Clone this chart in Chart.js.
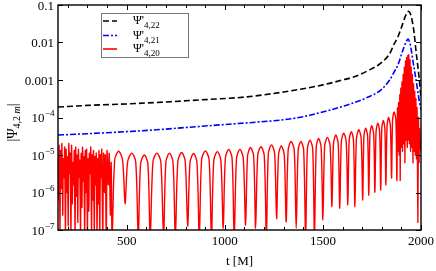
<!DOCTYPE html>
<html>
<head>
<meta charset="utf-8">
<script src="https://cdn.jsdelivr.net/npm/chart.js@4.4.1/dist/chart.umd.min.js"></script>
<style>
  html, body { margin: 0; padding: 0; background: #fff; }
</style>
</head>
<body>
<canvas id="chart" width="436" height="271"></canvas>
<script>
// values, t in M and |Psi| on a log axis
const seriesNames = ['4,22', '4,21', '4,20'];

const blackPts = [
  [150, 1.9e-4], [300, 2.1e-4], [500, 2.3e-4], [700, 2.6e-4], [900, 3.0e-4],
  [1100, 3.5e-4], [1300, 4.8e-4], [1500, 7.4e-4], [1600, 1.0e-3], [1668, 1.26e-3],
  [1730, 1.78e-3], [1795, 2.8e-3], [1840, 5.0e-3], [1862, 8.9e-3], [1882, 1.4e-2],
  [1895, 2.1e-2], [1908, 3.3e-2], [1920, 5.0e-2], [1930, 6.3e-2], [1937, 6.8e-2],
  [1946, 5.8e-2], [1955, 3.8e-2], [1965, 1.8e-2], [1974, 6.3e-3], [1990, 1.2e-3],
  [2000, 3.2e-4]
];

const bluePts = [
  [150, 3.4e-5], [300, 3.7e-5], [500, 4.2e-5], [650, 4.7e-5], [800, 5.4e-5],
  [1000, 6.5e-5], [1200, 7.8e-5], [1300, 8.7e-5], [1400, 1.05e-4], [1540, 1.6e-4],
  [1650, 2.4e-4], [1730, 3.5e-4], [1795, 5.4e-4], [1840, 1.0e-3], [1862, 1.6e-3],
  [1882, 2.5e-3], [1908, 6.3e-3], [1925, 1.05e-2], [1934, 1.23e-2], [1945, 8.9e-3],
  [1964, 2.2e-3], [1978, 7.9e-4], [1990, 3.0e-4], [2000, 1.6e-4]
];

const redPts = [
  [150, 1.0e-5], [153, 6.3e-7], [156, 1.8e-5], [160, 6.3e-8], [163, 1.3e-5], [167, 1.3e-6],
  [170, 2.0e-5], [174, 2.5e-7], [177, 7.9e-6], [181, 2.5e-6], [184, 1.6e-5], [188, 6.3e-8],
  [191, 1.4e-5], [195, 1.0e-6], [198, 8.9e-6], [202, 1.3e-7], [205, 2.0e-5], [209, 3.2e-6],
  [212, 1.1e-5], [216, 6.3e-8], [219, 1.8e-5], [223, 5.0e-7], [226, 6.3e-6], [230, 1.6e-6],
  [233, 1.3e-5], [237, 6.3e-8], [240, 1.6e-5], [244, 7.9e-7], [247, 1.0e-5], [251, 1.6e-7],
  [254, 1.4e-5], [258, 2.5e-6], [261, 7.1e-6], [265, 6.3e-8], [268, 1.1e-5], [272, 4.0e-7],
  [275, 1.6e-5], [279, 2.0e-6], [282, 8.9e-6], [286, 6.3e-8], [289, 1.3e-5], [293, 1.0e-6],
  [296, 1.4e-5], [300, 6.3e-8], [303, 7.9e-6], [307, 3.2e-7], [310, 1.1e-5], [314, 3.2e-6],
  [317, 1.6e-5], [321, 6.3e-8], [324, 1.0e-5], [328, 6.3e-7], [331, 1.3e-5], [335, 6.3e-8],
  [338, 8.9e-6], [342, 1.6e-6], [345, 1.1e-5], [349, 6.3e-8], [352, 7.9e-6], [356, 5.0e-7],
  [359, 1.3e-5], [363, 6.3e-8], [366, 1.0e-5], [370, 2.5e-6], [373, 1.4e-5], [378, 6.3e-8],
  [382, 1.1e-5], [387, 1.0e-6], [391, 1.0e-5], [396, 6.3e-8], [400, 1.3e-5], [406, 1.6e-6],
  [411, 1.1e-5], [417, 2.5e-7], [421, 6.3e-6], [426, 6.3e-8],
  [439, 7.4e-6], [459, 1.26e-5], [479, 7.4e-6], [492, 5.0e-7],
  [505, 6.6e-6], [526, 1.12e-5], [546, 6.6e-6], [559, 6.3e-8],
  [571, 5.9e-6], [590, 1.0e-5], [608, 5.9e-6], [620, 6.3e-8],
  [634, 6.6e-6], [654, 1.12e-5], [674, 6.6e-6], [688, 6.3e-8],
  [700, 6.6e-6], [718, 1.12e-5], [736, 6.6e-6], [748, 6.3e-8],
  [761, 6.9e-6], [780, 1.17e-5], [798, 6.9e-6], [811, 1.26e-7],
  [823, 6.5e-6], [841, 1.1e-5], [858, 6.5e-6], [870, 6.3e-8],
  [882, 7.6e-6], [901, 1.29e-5], [920, 7.6e-6], [932, 6.3e-8],
  [944, 7.2e-6], [962, 1.23e-5], [980, 7.2e-6], [992, 1.12e-7],
  [1003, 8.3e-6], [1020, 1.41e-5], [1037, 8.3e-6], [1048, 6.3e-8],
  [1060, 8.3e-6], [1077, 1.41e-5], [1094, 8.3e-6], [1106, 1.35e-7],
  [1116, 9.3e-6], [1131, 1.58e-5], [1147, 9.3e-6], [1157, 1.12e-7],
  [1168, 9.8e-6], [1184, 1.66e-5], [1201, 9.8e-6], [1212, 6.3e-8],
  [1222, 1.1e-5], [1238, 1.86e-5], [1254, 1.1e-5], [1264, 2.0e-7],
  [1274, 1.02e-5], [1288, 1.74e-5], [1303, 1.02e-5], [1313, 1.66e-7],
  [1323, 1.35e-5], [1338, 2.29e-5], [1354, 1.35e-5], [1364, 1.12e-7],
  [1374, 1.35e-5], [1388, 2.29e-5], [1402, 1.35e-5], [1412, 6.3e-8],
  [1421, 1.48e-5], [1434, 2.5e-5], [1448, 1.48e-5], [1457, 6.3e-8],
  [1466, 1.62e-5], [1478, 2.75e-5], [1491, 1.62e-5], [1500, 1.86e-7],
  [1509, 1.74e-5], [1523, 2.95e-5], [1537, 1.74e-5], [1546, 4.2e-7],
  [1554, 2.0e-5], [1566, 3.4e-5], [1578, 2.0e-5], [1586, 3.8e-7],
  [1594, 2.24e-5], [1606, 3.8e-5], [1619, 2.24e-5], [1627, 4.7e-7],
  [1634, 2.45e-5], [1645, 4.2e-5], [1656, 2.45e-5], [1663, 4.2e-7],
  [1671, 2.75e-5], [1683, 4.7e-5], [1695, 2.75e-5], [1703, 6.3e-7],
  [1709, 3.1e-5], [1718, 5.2e-5], [1728, 3.1e-5], [1734, 8.5e-7],
  [1740, 3.5e-5], [1749, 6.0e-5], [1759, 3.5e-5], [1765, 1.02e-6],
  [1771, 4.2e-5], [1780, 7.1e-5], [1789, 4.2e-5], [1795, 1.17e-6],
  [1800, 4.9e-5], [1808, 8.3e-5], [1816, 4.9e-5], [1821, 1.6e-6],
  [1827, 5.9e-5], [1835, 1.0e-4], [1844, 5.9e-5], [1850, 2.45e-6],
  [1855, 8.3e-5], [1863, 1.41e-4], [1872, 8.3e-5], [1877, 2.1e-6],
  [1880, 1.8e-4], [1883, 1.26e-5], [1886, 2.5e-4], [1889, 1.0e-5], [1892, 4.0e-4], [1894, 2.1e-6],
  [1897, 6.0e-4], [1900, 1.6e-5], [1903, 8.9e-4], [1906, 1.26e-5], [1909, 1.4e-3], [1912, 2.0e-5],
  [1915, 2.2e-3], [1918, 6.2e-6], [1921, 3.2e-3], [1924, 2.5e-5], [1927, 4.0e-3], [1930, 1.6e-5],
  [1933, 4.5e-3], [1936, 2.5e-5], [1938, 4.7e-3], [1941, 2.0e-5], [1944, 3.5e-3], [1947, 1.26e-5],
  [1950, 2.2e-3], [1953, 1.6e-5], [1956, 1.4e-3], [1959, 6.2e-6], [1962, 7.9e-4], [1965, 1.26e-5],
  [1968, 5.0e-4], [1971, 1.0e-5], [1974, 3.2e-4], [1977, 7.9e-6], [1980, 1.8e-4], [1984, 1.6e-7],
  [1987, 1.0e-4], [1990, 6.3e-6], [1993, 5.0e-5], [1996, 2.5e-5], [2000, 1.26e-5]
];

const xMajorTicks = [500, 1000, 1500, 2000];
const xMinorTicks = [200, 300, 400, 600, 700, 800, 900, 1100, 1200, 1300, 1400, 1600, 1700, 1800, 1900];
const yTicks = [0.1, 0.01, 0.001, 1e-4, 1e-5, 1e-6, 1e-7];
const yTickLabels = ['0.1', '0.01', '0.001', '10^\u22124', '10^\u22125', '10^\u22126', '10^\u22127'];

const SERIF = '"Liberation Serif", "DejaVu Serif", serif';
const colors = ['#000000', '#0000ff', '#ff0000'];
const dashes = [[6, 3], [6, 2, 2, 2], []];

const toXY = pts => pts.map(p => ({x: p[0], y: p[1]}));

// frame, inward ticks, tick labels, axis titles and the boxed legend
const decorations = {
  id: 'decorations',
  afterDraw(chart) {
    const {ctx, chartArea: a, scales: {x, y}} = chart;
    ctx.save();

    ctx.strokeStyle = '#000';
    ctx.lineWidth = 1;
    ctx.beginPath();
    xMinorTicks.concat(xMajorTicks).forEach(t => {
      const px = Math.round(x.getPixelForValue(t)) + 0.5;
      const len = xMajorTicks.includes(t) ? 5 : 3;
      ctx.moveTo(px, a.bottom); ctx.lineTo(px, a.bottom - len);
      ctx.moveTo(px, a.top); ctx.lineTo(px, a.top + len);
    });
    yTicks.forEach(v => {
      const py = Math.round(y.getPixelForValue(v)) + 0.5;
      ctx.moveTo(a.left, py); ctx.lineTo(a.left + 5, py);
      ctx.moveTo(a.right, py); ctx.lineTo(a.right - 5, py);
    });
    ctx.stroke();

    ctx.lineWidth = 1.4;
    ctx.strokeRect(a.left, a.top, a.right - a.left, a.bottom - a.top);

    ctx.fillStyle = '#000';
    ctx.font = '13px ' + SERIF;
    ctx.textAlign = 'center';
    ctx.textBaseline = 'alphabetic';
    xMajorTicks.forEach(t => ctx.fillText(String(t), x.getPixelForValue(t), a.bottom + 15));
    ctx.fillText('t [M]', (a.left + a.right) / 2, a.bottom + 35);

    ctx.textAlign = 'left';
    yTicks.forEach((v, i) => {
      const py = y.getPixelForValue(v) + 4.5;
      const parts = yTickLabels[i].split('^');
      ctx.font = '13px ' + SERIF;
      const w0 = ctx.measureText(parts[0]).width;
      let w1 = 0;
      if (parts[1]) { ctx.font = '9px ' + SERIF; w1 = ctx.measureText(parts[1]).width; }
      const x0 = a.left - 4 - w0 - w1;
      ctx.font = '13px ' + SERIF;
      ctx.fillText(parts[0], x0, py);
      if (parts[1]) { ctx.font = '9px ' + SERIF; ctx.fillText(parts[1], x0 + w0 + 0.5, py - 6); }
    });

    // y title |Psi_{4,2m}|
    ctx.save();
    ctx.translate(17, (a.top + a.bottom) / 2 + 5);
    ctx.rotate(-Math.PI / 2);
    ctx.font = '14px ' + SERIF;
    const wa = ctx.measureText('|\u03a8').width;
    ctx.font = '10px ' + SERIF;
    const wb = ctx.measureText('4,2 ').width;
    ctx.font = 'italic 10px ' + SERIF;
    const wc = ctx.measureText('m').width;
    ctx.font = '14px ' + SERIF;
    const wd = ctx.measureText('|').width;
    let cx = -(wa + wb + wc + wd) / 2;
    ctx.fillText('|\u03a8', cx, 0); cx += wa;
    ctx.font = '10px ' + SERIF; ctx.fillText('4,2 ', cx, 3); cx += wb;
    ctx.font = 'italic 10px ' + SERIF; ctx.fillText('m', cx, 3); cx += wc;
    ctx.font = '14px ' + SERIF; ctx.fillText('|', cx, 0);
    ctx.restore();

    // legend
    ctx.fillStyle = '#fff';
    ctx.fillRect(101, 13, 87, 44);
    ctx.strokeStyle = '#777';
    ctx.lineWidth = 1;
    ctx.strokeRect(101.5, 13.5, 87, 44);
    const rows = [21, 35.5, 49];
    seriesNames.forEach((name, i) => {
      ctx.strokeStyle = colors[i];
      ctx.lineWidth = 1.6;
      ctx.setLineDash(dashes[i]);
      ctx.beginPath();
      ctx.moveTo(103, rows[i]); ctx.lineTo(117, rows[i]);
      ctx.stroke();
      ctx.setLineDash([]);
      ctx.fillStyle = '#000';
      ctx.font = '12px ' + SERIF;
      ctx.fillText("\u03a8'", 133, rows[i] + 3);
      const w = ctx.measureText("\u03a8'").width;
      ctx.font = '9px ' + SERIF;
      ctx.fillText(name, 133 + w, rows[i] + 7);
    });

    ctx.restore();
  }
};

new Chart(document.getElementById('chart'), {
  type: 'line',
  data: {
    datasets: [
      {data: toXY(redPts), borderColor: colors[2], borderWidth: 1.4, tension: 0.3, order: 3},
      {data: toXY(bluePts), borderColor: colors[1], borderWidth: 1.6, borderDash: dashes[1], cubicInterpolationMode: 'monotone', order: 2},
      {data: toXY(blackPts), borderColor: colors[0], borderWidth: 1.6, borderDash: dashes[0], cubicInterpolationMode: 'monotone', order: 1}
    ]
  },
  options: {
    responsive: false,
    animation: false,
    events: [],
    layout: {padding: {left: 58, top: 5, right: 15, bottom: 41}},
    elements: {point: {radius: 0}},
    plugins: {legend: {display: false}, tooltip: {enabled: false}},
    scales: {
      x: {type: 'linear', min: 150, max: 2000, display: false},
      y: {type: 'logarithmic', min: 1e-7, max: 0.1, display: false}
    }
  },
  plugins: [decorations]
});
</script>
</body>
</html>
